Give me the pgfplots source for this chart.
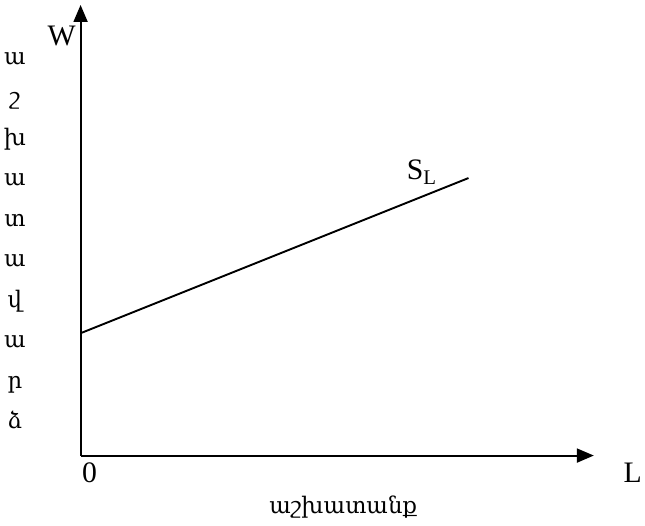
\documentclass[border=0pt]{standalone}
\usepackage{pgfplots}
\pgfplotsset{compat=1.18}
\usepackage{fontspec}
\setmainfont{Liberation Serif}
\newfontfamily\armfont[Script=Armenian]{DejaVu Serif}
\usetikzlibrary{arrows.meta}
\begin{document}
\begin{tikzpicture}
\begin{axis}[
  scale only axis,
  width=516bp, height=453bp,
  xmin=0, xmax=516, ymin=0, ymax=453,
  axis lines=left,
  axis line style={line width=1.9bp, -{Triangle[length=17bp,width=14bp]}},
  xtick=\empty, ytick=\empty,
  clip=false,
]
% supply curve
\addplot[black, line width=1.9bp] coordinates {(0,123) (390,279)};
\path (axis cs:-81,-70) rectangle (axis cs:564,458);
\node[font=\fontsize{30}{32}\selectfont] at (axis cs:-19,422) {W};
\node[font=\fontsize{30}{32}\selectfont] at (axis cs:555,-17) {L};
\node[font=\fontsize{30}{32}\selectfont] at (axis cs:9,-17) {0};
\node[font=\fontsize{30}{32}\selectfont] at (axis cs:343,285) {S\textsubscript{L}};
\node[font=\armfont\fontsize{23}{40.9}\selectfont, align=center, anchor=north] at (axis cs:-66,409) {ա\\շ\\խ\\ա\\տ\\ա\\վ\\ա\\ր\\ձ};
\node[font=\armfont\fontsize{23}{25}\selectfont] at (axis cs:264,-52) {աշխատանք};
\end{axis}
\end{tikzpicture}
\end{document}
